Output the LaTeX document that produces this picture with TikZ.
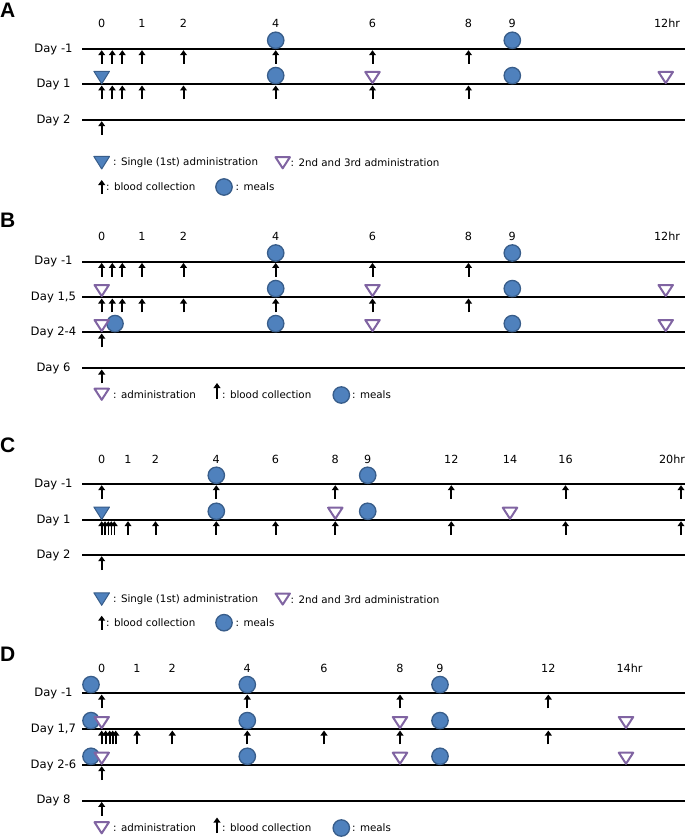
\documentclass[tikz,border=0pt]{standalone}
\usepackage{fontspec}
\setmainfont{DejaVu Sans}
\newfontfamily\letterfont{Liberation Sans}
\usetikzlibrary{arrows.meta}
\definecolor{mealfill}{HTML}{4F81BD}
\definecolor{mealedge}{HTML}{385D8A}
\definecolor{admpurple}{HTML}{8064A2}
\newcommand\meal[2]{\draw[mealst] ({#1},{#2-8.7}) circle[radius=8.2pt];}
\newcommand\mealc[2]{\draw[mealst] ({#1},{#2}) circle[radius=8.2pt];}
\newcommand\ptri[2]{\draw[ptrist] ({#1-7.2},{#2-12.3}) -- ({#1+7.2},{#2-12.3}) -- ({#1},{#2-1.2}) -- cycle;}
\newcommand\btri[2]{\draw[btrist] ({#1-7.8},{#2-13}) -- ({#1+7.8},{#2-13}) -- ({#1},{#2-0.5}) -- cycle;}
\newcommand\blood[2]{\draw[bloodst] ({#1},{#2+15}) -- ({#1},{#2+1.2});}
\newcommand\bloods[2]{\foreach \xx in {#2} {\blood{\xx}{#1}}}
\begin{document}
\begin{tikzpicture}[x=1pt,y=-1pt,
  dayline/.style={line width=1.9pt, black},
  bloodst/.style={line width=2pt, -{Triangle[length=5pt,width=6.8pt]}},
  mealst/.style={fill=mealfill, draw=mealedge, line width=1.3pt},
  ptrist/.style={draw=admpurple, fill=white, line width=2pt, line join=round},
  btrist/.style={fill=mealfill, draw=mealedge, line width=1pt, line join=round},
  daylab/.style={font=\fontsize{11.6}{13}\selectfont, inner sep=0pt},
  timelab/.style={font=\fontsize{11.2}{13}\selectfont, inner sep=0pt},
  leglab/.style={font=\fontsize{10.3}{12}\selectfont, inner sep=0pt, anchor=west},
  panellab/.style={font={\letterfont\bfseries\fontsize{21}{24}\selectfont}, inner sep=0pt, anchor=west}
]
\useasboundingbox[fill=white] (0,0) rectangle (685,837);

% ================= Panel A =================
\node[panellab] (pA) at (0,10.5) {A};
\foreach \x/\t [count=\i] in {101.7/0,142/1,183.5/2,275.7/4,372.5/6,468.5/8,512.3/9,667/12hr}
  \node[timelab] (tA\i) at (\x,23) {\t};
\foreach \y/\l [count=\i] in {49/Day -1,84.3/Day 1,120/Day 2} {
  \node[daylab] (dA\i) at (53.5,\y) {\l};
  \draw[dayline] (82,\y) -- (685,\y);
}
\meal{275.7}{49} \meal{512.3}{49}
\meal{275.7}{84.3} \meal{512.3}{84.3}
\btri{101.7}{84.3}
\ptri{372.5}{84.3} \ptri{665.7}{84.3}
\bloods{49}{101.7,112.3,122.3,142,183.5,275.7,372.5,468.5}
\bloods{84.3}{101.7,112.3,122.3,142,183.5,275.7,372.5,468.5}
\bloods{120}{101.7}
% legend A
\btri{101.7}{169.5}
\node[leglab] (lA1) at (113,163) {: Single (1st) administration};
\ptri{282.7}{169.5}
\node[leglab] (lA2) at (290.5,163) {: 2nd and 3rd administration};
\draw[bloodst] (101.7,194) -- (101.7,180);
\node[leglab] (lA3) at (106,187) {: blood collection};
\mealc{224}{187}
\node[leglab] (lA4) at (235.5,187) {: meals};

% ================= Panel B =================
\node[panellab] (pB) at (0,220.5) {B};
\foreach \x/\t [count=\i] in {101.7/0,142/1,183.5/2,275.7/4,372.5/6,468.5/8,512.3/9,667/12hr}
  \node[timelab] (tB\i) at (\x,236.7) {\t};
\foreach \y/\l [count=\i] in {261.7/Day -1,297.3/{Day 1,5},332.3/Day 2-4,368.3/Day 6} {
  \node[daylab] (dB\i) at (53.5,\y) {\l};
  \draw[dayline] (82,\y) -- (685,\y);
}
\meal{275.7}{261.7} \meal{512.3}{261.7}
\meal{275.7}{297.3} \meal{512.3}{297.3}
\meal{115}{332.3} \meal{275.7}{332.3} \meal{512.3}{332.3}
\ptri{101.7}{297.3} \ptri{372.5}{297.3} \ptri{665.7}{297.3}
\ptri{101.7}{332.3} \ptri{372.5}{332.3} \ptri{665.7}{332.3}
\bloods{261.7}{101.7,112.3,122.3,142,183.5,275.7,372.5,468.5}
\bloods{297.3}{101.7,112.3,122.3,142,183.5,275.7,372.5,468.5}
\bloods{332.3}{101.7}
\bloods{368.3}{101.7}
% legend B
\ptri{101.7}{401}
\node[leglab] (lB1) at (113,395) {: administration};
\draw[bloodst] (217,399) -- (217,383);
\node[leglab] (lB2) at (222,395) {: blood collection};
\mealc{341.3}{395}
\node[leglab] (lB3) at (352,395) {: meals};

% ================= Panel C =================
\node[panellab] (pC) at (0,445) {C};
\foreach \x/\t [count=\i] in {101.7/0,128/1,155.5/2,216.3/4,275.5/6,335.3/8,367.7/9,451.3/12,510/14,565.5/16,672/20hr}
  \node[timelab] (tC\i) at (\x,459.3) {\t};
\foreach \y/\l [count=\i] in {484/Day -1,520/Day 1,555/Day 2} {
  \node[daylab] (dC\i) at (53.5,\y) {\l};
  \draw[dayline] (82,\y) -- (685,\y);
}
\meal{216.3}{484} \meal{367.7}{484}
\meal{216.3}{520} \meal{367.7}{520}
\btri{101.7}{520}
\ptri{335.3}{520} \ptri{510}{520}
\bloods{484}{101.7,216.3,335.3,451.3,565.5,681}
\begin{scope}[bloodst/.append style={line width=1.6pt}]
\bloods{520}{101.7,105,108.3,111.3,114.3}
\end{scope}
\bloods{520}{128,155.5,216.3,275.5,335.3,451.3,565.5,681}
\bloods{555}{101.7}
% legend C
\btri{101.7}{605.8}
\node[leglab] (lC1) at (113,599.3) {: Single (1st) administration};
\ptri{282.7}{605.8}
\node[leglab] (lC2) at (290.5,599.3) {: 2nd and 3rd administration};
\draw[bloodst] (101.7,629.7) -- (101.7,615.7);
\node[leglab] (lC3) at (106,622.7) {: blood collection};
\mealc{224}{622.7}
\node[leglab] (lC4) at (235.5,622.7) {: meals};

% ================= Panel D =================
\node[panellab] (pD) at (0,654) {D};
\foreach \x/\t [count=\i] in {101.7/0,137/1,172.3/2,247.3/4,324/6,400/8,440/9,548.3/12,629.5/14hr}
  \node[timelab] (tD\i) at (\x,668.3) {\t};
\foreach \y/\l [count=\i] in {693.3/Day -1,729.3/{Day 1,7},765/Day 2-6,800.7/Day 8} {
  \node[daylab] (dD\i) at (53.5,\y) {\l};
  \draw[dayline] (82,\y) -- (685,\y);
}
\foreach \y in {693.3,729.3,765} {
  \meal{91}{\y} \meal{247.3}{\y} \meal{440}{\y}
}
\ptri{101.7}{729.3} \ptri{400}{729.3} \ptri{626}{729.3}
\ptri{101.7}{765} \ptri{400}{765} \ptri{626}{765}
\bloods{693.3}{101.7,247.3,400,548.3}
\begin{scope}[bloodst/.append style={line width=1.6pt}]
\bloods{729.3}{101.7,105.7,109.7,112.7,115.7}
\end{scope}
\bloods{729.3}{137,172.3,247.3,324,400,548.3}
\bloods{765}{101.7}
\bloods{800.7}{101.7}
% legend D
\ptri{101.7}{834.5}
\node[leglab] (lD1) at (113,827.3) {: administration};
\draw[bloodst] (217,833) -- (217,817.5);
\node[leglab] (lD2) at (222,827.3) {: blood collection};
\mealc{341.3}{828}
\node[leglab] (lD3) at (352,827.3) {: meals};
\end{tikzpicture}
\end{document}
